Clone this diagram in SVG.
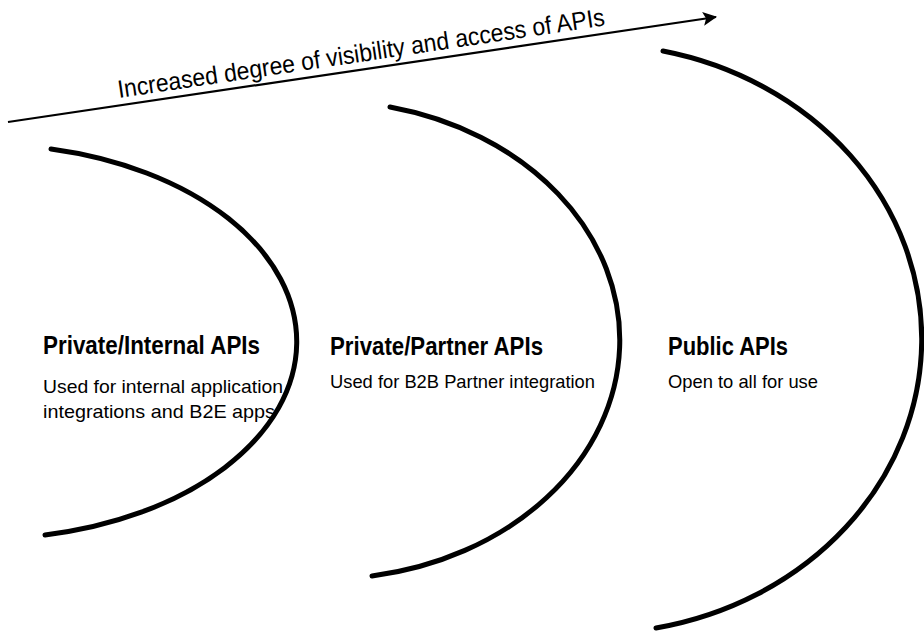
<svg xmlns="http://www.w3.org/2000/svg" width="924" height="640" viewBox="0 0 924 640">
<defs>
<style>
.arc{fill:none;stroke:#000;stroke-width:5;stroke-linecap:round}
.conn{fill:none;stroke:#000;stroke-width:2.2}
.t{font-family:"Liberation Sans",Arial,sans-serif;fill:#000}
.h{font-size:25px;font-weight:bold}
.s{font-size:19px}
.title{font-size:25px}
</style>
<marker id="ah" markerWidth="16" markerHeight="14" refX="13" refY="7" orient="auto" markerUnits="userSpaceOnUse">
<path d="M0,0 L14,7 L0,14 L3,7 Z" fill="#000"/>
</marker>
</defs>
<rect width="924" height="640" fill="#fff"/>
<g id="connectors">
<line class="conn" x1="8" y1="122" x2="716" y2="17" marker-end="url(#ah)"/>
</g>
<text class="t title" x="119" y="98" transform="rotate(-8.5 119 98)" textLength="492" lengthAdjust="spacingAndGlyphs">Increased degree of visibility and access of APIs</text>
<g id="private-internal">
<path class="arc" d="M51,149 A311,197 0 0 1 45,535"/>
<text class="t h" x="43" y="354" textLength="217" lengthAdjust="spacingAndGlyphs">Private/Internal APIs</text>
<text class="t s" x="43" y="393" textLength="240" lengthAdjust="spacingAndGlyphs">Used for internal application</text>
<text class="t s" x="43" y="418" textLength="232" lengthAdjust="spacingAndGlyphs">integrations and B2E apps</text>
</g>
<g id="private-partner">
<path class="arc" d="M390,107 A295,239 0 0 1 372,576"/>
<text class="t h" x="330" y="355" textLength="213" lengthAdjust="spacingAndGlyphs">Private/Partner APIs</text>
<text class="t s" x="330" y="388" textLength="265" lengthAdjust="spacingAndGlyphs">Used for B2B Partner integration</text>
</g>
<g id="public">
<path class="arc" d="M663,51 A328,294.5 0 0 1 656,628"/>
<text class="t h" x="668" y="355" textLength="120" lengthAdjust="spacingAndGlyphs">Public APIs</text>
<text class="t s" x="668" y="388" textLength="150" lengthAdjust="spacingAndGlyphs">Open to all for use</text>
</g>
</svg>
